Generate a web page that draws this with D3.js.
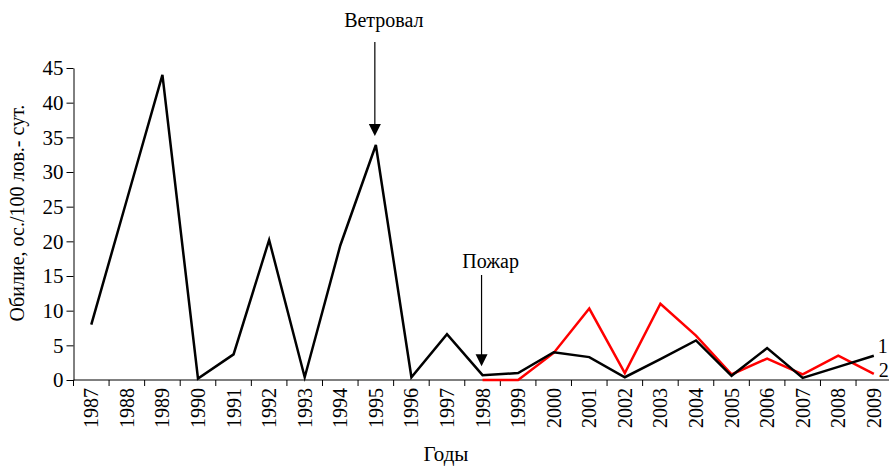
<!DOCTYPE html>
<html>
<head>
<meta charset="utf-8">
<script src="https://cdn.jsdelivr.net/npm/d3@7"></script>
</head>
<body style="margin:0;background:#fff">
<div id="graph"></div>
<script>
// years on the X axis
var years = [1987, 1988, 1989, 1990, 1991, 1992, 1993, 1994, 1995, 1996, 1997, 1998,
             1999, 2000, 2001, 2002, 2003, 2004, 2005, 2006, 2007, 2008, 2009]
// series 1 (black), all years
var series1 = [8, 26, 44, 0.2, 3.7, 20.2, 0.4, 19.4, 33.9, 0.4, 6.6, 0.7,
               1.0, 4.0, 3.3, 0.4, 3.0, 5.7, 0.6, 4.6, 0.3, 1.9, 3.5]
// series 2 (red), from 1998 on
var years2 = [1998, 1999, 2000, 2001, 2002, 2003, 2004, 2005, 2006, 2007, 2008, 2009]
var series2 = [0, 0, 3.9, 10.3, 1.0, 11.0, 6.4, 0.8, 3.1, 0.8, 3.5, 0.9]
var yTicks = [0, 5, 10, 15, 20, 25, 30, 35, 40, 45]

var W = 889, H = 469
var FONT = "Liberation Serif"
var svg = d3.select("#graph").append("svg").attr("width", W).attr("height", H)
    .style("display", "block").attr("font-family", FONT)

// scales
var x = d3.scaleBand().domain(years).range([73.5, 73.5 + 23 * 35.57]).padding(0)
var y = d3.scaleLinear().domain([0, 45]).range([380, 68])
var bw = x.bandwidth()
var cx = function (yr) { return x(yr) + bw / 2 }

// Y axis
var yAxis = svg.append("g")
    .attr("transform", "translate(" + x.range()[0] + ",0)")
    .call(d3.axisLeft(y).tickValues(yTicks).tickSize(7).tickSizeOuter(0))
    .attr("font-family", FONT).attr("font-size", 21)
yAxis.selectAll("text").attr("x", -10).attr("fill", "#000")
yAxis.select(".domain").attr("stroke", "#000")
yAxis.selectAll(".tick line").attr("stroke", "#000")

// X axis: ticks on band boundaries, labels in band centers
var xg = svg.append("g").attr("transform", "translate(0," + y(0) + ")")
xg.append("line").attr("x1", x.range()[0]).attr("x2", W + 5).attr("stroke", "#000")
xg.selectAll(".tk").data(years).enter().append("line")
    .attr("x1", function (d) { return x(d) }).attr("x2", function (d) { return x(d) })
    .attr("y1", 0).attr("y2", 6).attr("stroke", "#000")
xg.selectAll(".lb").data(years).enter().append("text")
    .attr("transform", function (d) { return "translate(" + cx(d) + ",8) rotate(-90)" })
    .attr("text-anchor", "end").attr("dy", "0.35em")
    .attr("font-size", 20)
    .text(function (d) { return d })

// axis titles
svg.append("text")
    .attr("transform", "translate(24,213) rotate(-90)")
    .attr("text-anchor", "middle").attr("font-size", 20)
    .text("Обилие, ос./100 лов.- сут.")
svg.append("text")
    .attr("x", 446).attr("y", 461).attr("text-anchor", "middle").attr("font-size", 21)
    .text("Годы")

// lines
var line = d3.line().x(function (d) { return cx(d[0]) }).y(function (d) { return y(d[1]) })
svg.append("path").datum(years2.map(function (d, i) { return [d, series2[i]] }))
    .attr("d", line).attr("fill", "none").attr("stroke", "#ff0000").attr("stroke-width", 2.5)
svg.append("path").datum(years.map(function (d, i) { return [d, series1[i]] }))
    .attr("d", line).attr("fill", "none").attr("stroke", "#000").attr("stroke-width", 2.5)

// series labels
svg.append("text").attr("x", cx(2009) + 4).attr("y", y(series1[22]) - 3)
    .attr("font-size", 20).text("1")
svg.append("text").attr("x", cx(2009) + 5).attr("y", y(series2[11]) + 3)
    .attr("font-size", 20).text("2")

// event arrows
var events = [
    { year: 1995, label: "Ветровал", top: 42, textY: 27 },
    { year: 1998, label: "Пожар", top: 275, textY: 268 }
]
var idx = function (yr) { return years.indexOf(yr) }
events.forEach(function (e) {
    var ax = cx(e.year) - 1
    var tip = y(series1[idx(e.year)]) - 9
    svg.append("line").attr("x1", ax).attr("x2", ax).attr("y1", e.top).attr("y2", tip - 10)
        .attr("stroke", "#000").attr("stroke-width", 1.2)
    svg.append("path")
        .attr("d", "M" + (ax - 6) + "," + (tip - 12) + "L" + (ax + 6) + "," + (tip - 12) + "L" + ax + "," + tip + "Z")
        .attr("fill", "#000")
    svg.append("text").attr("x", ax + 9).attr("y", e.textY).attr("text-anchor", "middle")
        .attr("font-size", 20).text(e.label)
})
</script>
</body>
</html>
